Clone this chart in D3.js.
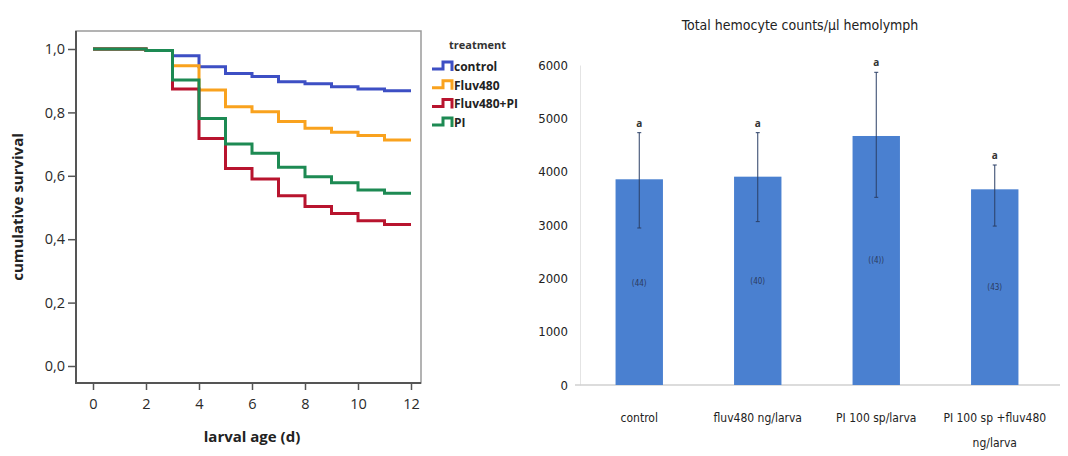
<!DOCTYPE html>
<html>
<head>
<meta charset="utf-8">
<script src="https://cdn.jsdelivr.net/npm/d3@7"></script>
<style>
  body { margin: 0; background: #fff; }
  svg { display: block; }
  .ax text { font-family: "Open Sans", sans-serif; }
</style>
</head>
<body>
<svg id="chart" width="1068" height="456"></svg>
<script>
// ---- survival data (day, cumulative survival) ----
var days = [0, 2, 3, 4, 5, 6, 7, 8, 9, 10, 11, 12];
var treatments = ['control', 'Fluv480', 'Fluv480+PI', 'PI'];
var survControl = [1.0, 0.995, 0.979, 0.944, 0.923, 0.913, 0.897, 0.890, 0.881, 0.874, 0.868, 0.868];
var survFluv    = [1.0, 0.995, 0.947, 0.871, 0.818, 0.802, 0.771, 0.750, 0.737, 0.727, 0.713, 0.713];
var survFluvPI  = [1.0, 0.995, 0.874, 0.718, 0.623, 0.590, 0.537, 0.503, 0.481, 0.458, 0.446, 0.446];
var survPI      = [1.0, 0.995, 0.902, 0.781, 0.700, 0.671, 0.627, 0.597, 0.578, 0.555, 0.545, 0.545];
var survColors  = ['#3d4fc4', '#f9a21e', '#b8142e', '#1d8a53'];
var xTicks = [0, 2, 4, 6, 8, 10, 12];
var yTicks = [0, 0.2, 0.4, 0.6, 0.8, 1.0];

// ---- hemocyte data ----
var groups = ['control', 'fluv480 ng/larva', 'PI 100 sp/larva', 'PI 100 sp +fluv480|ng/larva'];
var counts = [3857, 3906, 4669, 3669];
var errUp  = [4731, 4731, 5863, 4125];
var errLow = [2944, 3063, 3519, 2980];
var letters = ['a', 'a', 'a', 'a'];
var inBar   = ['(44)', '(40)', '((4))', '(43)'];
var inBarAt = [1850, 1900, 2280, 1780];
var countTicks = [0, 1000, 2000, 3000, 4000, 5000, 6000];

var svg = d3.select('#chart');
var comma = d3.formatLocale({ decimal: ',', thousands: '.', grouping: [3], currency: ['', ''] }).format('.1f');

// ================= left: survival curves =================
var x = d3.scaleLinear().domain([0, 12]).range([93, 411]);
var y = d3.scaleLinear().domain([0, 1]).range([366, 49]);

svg.append('rect')
  .attr('x', 76).attr('y', 31).attr('width', 345).attr('height', 352)
  .attr('fill', 'none').attr('stroke', '#9a9a9a').attr('stroke-width', 1.5);

var yAx = svg.append('g').attr('class', 'ax').attr('transform', 'translate(76,0)')
  .call(d3.axisLeft(y).tickValues(yTicks).tickFormat(comma).tickSize(8).tickPadding(3));
var xAx = svg.append('g').attr('class', 'ax').attr('transform', 'translate(0,383)')
  .call(d3.axisBottom(x).tickValues(xTicks).tickFormat(d3.format('d')).tickSize(7).tickPadding(9));
[yAx, xAx].forEach(function (a) {
  a.select('.domain').remove();
  a.selectAll('line').attr('stroke', '#555').attr('stroke-width', 1.5);
  a.selectAll('text').attr('font-size', 14.5).attr('fill', '#2a2a2a');
});
svg.append('line').attr('x1', 76).attr('x2', 76).attr('y1', 31).attr('y2', 384)
  .attr('stroke', '#555').attr('stroke-width', 2);
svg.append('line').attr('x1', 75).attr('x2', 421).attr('y1', 383).attr('y2', 383)
  .attr('stroke', '#555').attr('stroke-width', 2);

svg.append('text').attr('x', 252).attr('y', 442).attr('text-anchor', 'middle')
  .attr('font-family', 'Open Sans, sans-serif').attr('font-weight', 'bold').attr('font-size', 15)
  .attr('fill', '#222').text('larval age (d)');
svg.append('text').attr('transform', 'translate(23,207) rotate(-90)').attr('text-anchor', 'middle')
  .attr('font-family', 'Open Sans, sans-serif').attr('font-weight', 'bold').attr('font-size', 15)
  .attr('fill', '#222').text('cumulative survival');

var stepLine = d3.line().x(function (d) { return x(d[0]); }).y(function (d) { return y(d[1]); })
  .curve(d3.curveStepAfter);
var survSeries = [survControl, survFluv, survFluvPI, survPI];
[0, 1, 2, 3].forEach(function (i) {
  var pts = days.map(function (d, k) { return [d, survSeries[i][k]]; });
  svg.append('path').datum(pts).attr('d', stepLine)
    .attr('fill', 'none').attr('stroke', survColors[i]).attr('stroke-width', 3);
});

// legend
var lg = svg.append('g').attr('font-family', 'Open Sans, sans-serif');
lg.append('text').attr('x', 449).attr('y', 49).attr('font-size', 11).attr('font-weight', 'bold')
  .attr('fill', '#333').text('treatment');
treatments.forEach(function (t, i) {
  var cy = 66 + i * 18.7;
  lg.append('path')
    .attr('d', 'M432,' + (cy + 3) + 'H443V' + (cy - 4) + 'H452V' + (cy + 5))
    .attr('fill', 'none').attr('stroke', survColors[i]).attr('stroke-width', 3);
  lg.append('text').attr('x', 454).attr('y', cy + 5).attr('font-size', 12).attr('font-weight', 'bold')
    .attr('fill', '#222').text(t);
});

// ================= right: hemocyte bars =================
var bx = d3.scaleBand().domain(groups).range([580, 1054]).paddingInner(0.6).paddingOuter(0.3);
var by = d3.scaleLinear().domain([0, 6000]).range([385, 65]);
var condensed = '"DejaVu Sans Condensed", "Liberation Sans Narrow", "Open Sans", sans-serif';

svg.append('text').attr('x', 800).attr('y', 30).attr('text-anchor', 'middle')
  .attr('font-family', condensed).attr('font-stretch', 'condensed').attr('font-size', 14).attr('fill', '#222')
  .text('Total hemocyte counts/\u00b5l hemolymph');

var byAx = svg.append('g').attr('transform', 'translate(580,0)')
  .call(d3.axisLeft(by).tickValues(countTicks).tickFormat(d3.format('d')).tickSize(0).tickPadding(12));
byAx.select('.domain').attr('stroke', '#e4e4e4');
byAx.selectAll('text').attr('font-family', condensed).attr('font-stretch', 'condensed')
  .attr('font-size', 13).attr('fill', '#222');

svg.append('line').attr('x1', 575).attr('x2', 1060).attr('y1', by(0)).attr('y2', by(0))
  .attr('stroke', '#d0d0d0').attr('stroke-width', 1.5);

svg.selectAll('rect.bar').data(groups).enter().append('rect').attr('class', 'bar')
  .attr('x', function (g) { return bx(g); })
  .attr('width', bx.bandwidth())
  .attr('y', function (g, i) { return by(counts[i]); })
  .attr('height', function (g, i) { return by(0) - by(counts[i]); })
  .attr('fill', '#4a80d0');

groups.forEach(function (g, i) {
  var cx = bx(g) + bx.bandwidth() / 2;
  svg.append('line').attr('x1', cx).attr('x2', cx).attr('y1', by(errUp[i])).attr('y2', by(errLow[i]))
    .attr('stroke', '#2b3f66').attr('stroke-width', 1);
  [errUp[i], errLow[i]].forEach(function (v) {
    svg.append('line').attr('x1', cx - 2).attr('x2', cx + 2).attr('y1', by(v)).attr('y2', by(v))
      .attr('stroke', '#2b3f66').attr('stroke-width', 1);
  });
  svg.append('text').attr('x', cx).attr('y', by(errUp[i]) - 6).attr('text-anchor', 'middle')
    .attr('font-family', 'Open Sans, sans-serif').attr('font-size', 10).attr('font-weight', 'bold')
    .attr('fill', '#333').text(letters[i]);
  svg.append('text').attr('x', cx).attr('y', by(inBarAt[i])).attr('text-anchor', 'middle')
    .attr('font-family', condensed).attr('font-size', 8).attr('fill', '#2a3a60').text(inBar[i]);
  var lines = g.split('|');
  lines.forEach(function (ln, k) {
    svg.append('text').attr('x', cx).attr('y', 422 + k * 25).attr('text-anchor', 'middle')
      .attr('font-family', condensed).attr('font-stretch', 'condensed')
      .attr('font-size', 12).attr('fill', '#222').text(ln);
  });
});
</script>
</body>
</html>
